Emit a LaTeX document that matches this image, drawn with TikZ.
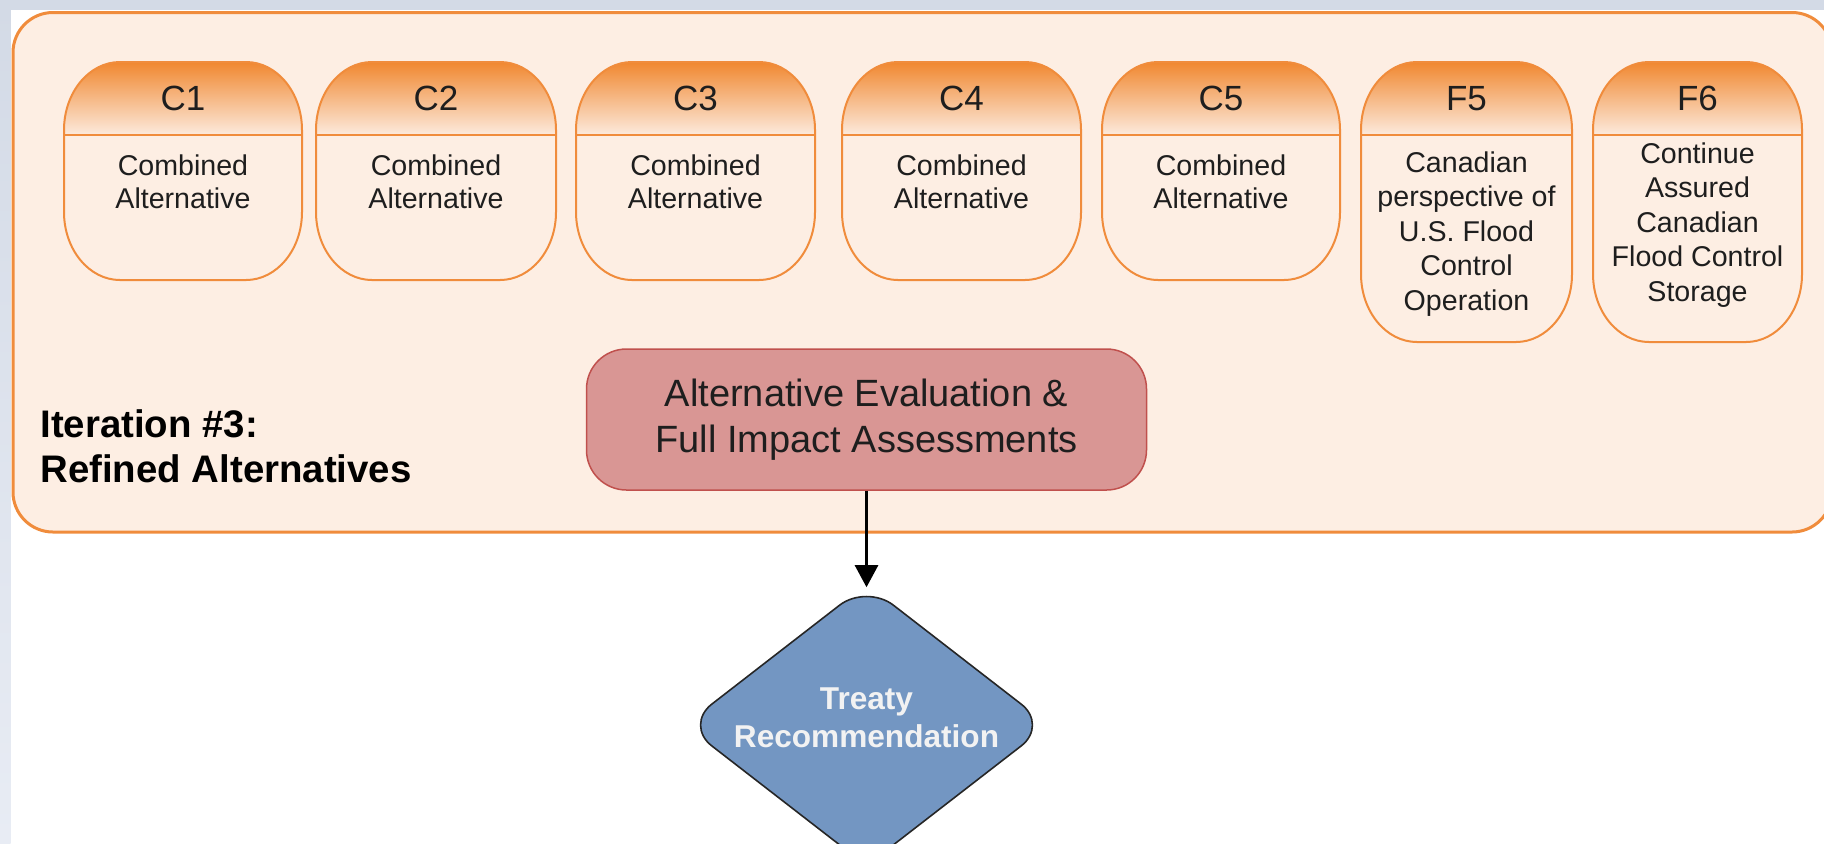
\documentclass[tikz,border=0pt]{standalone}
\usepackage{fontspec}
\setmainfont{Liberation Sans}
\usetikzlibrary{shapes.geometric,arrows.meta}
\definecolor{peach}{HTML}{FDEEE3}
\definecolor{orangeline}{HTML}{F08C3C}
\definecolor{hdrtop}{HTML}{F0852B}
\definecolor{hdrbot}{HTML}{FCEADD}
\definecolor{evalfill}{HTML}{D99694}
\definecolor{evalline}{HTML}{C0504D}
\definecolor{recfill}{HTML}{7396C2}
\definecolor{recline}{HTML}{262626}
\definecolor{stripA}{HTML}{D3DAE6}
\definecolor{stripB}{HTML}{E8ECF4}
\definecolor{ink}{HTML}{1E1E1E}
% x1 y1 x2 y2 rx ry : rectangle with elliptical corners
\newcommand\cardpath[6]{({#1+#5},#2) -- ({#3-#5},#2)
 .. controls ({#3-0.4477*#5},#2) and (#3,{#2+0.4477*#6}) .. (#3,{#2+#6})
 -- (#3,{#4-#6})
 .. controls (#3,{#4-0.4477*#6}) and ({#3-0.4477*#5},#4) .. ({#3-#5},#4)
 -- ({#1+#5},#4)
 .. controls ({#1+0.4477*#5},#4) and (#1,{#4-0.4477*#6}) .. (#1,{#4-#6})
 -- (#1,{#2+#6})
 .. controls (#1,{#2+0.4477*#6}) and ({#1+0.4477*#5},#2) .. ({#1+#5},#2) -- cycle}
\tikzset{
  outerbox/.style={draw=orangeline, fill=peach, line width=1.5pt, rounded corners=20pt},
  cardline/.style={draw=orangeline, line width=1pt},
  hdrtext/.style={anchor=base, inner sep=0pt, text=ink, font=\fontsize{17.5}{20}\selectfont},
  bodytext/.style={anchor=north, inner sep=0pt, text=ink, align=center, font=\fontsize{14.3}{16.7}\selectfont},
  ftext/.style={anchor=north, inner sep=0pt, text=ink, align=center, font=\fontsize{14.3}{17.3}\selectfont},
  evalbox/.style={draw=evalline, fill=evalfill, line width=0.75pt, rounded corners=20pt,
    minimum width=280pt, minimum height=70.5pt, inner sep=0pt, align=center, text=ink,
    font=\fontsize{19}{23}\selectfont},
  recshape/.style={diamond, draw=recline, fill=recfill, line width=0.8pt, rounded corners=17pt,
    minimum width=182pt, minimum height=141pt, inner sep=0pt},
  rectext/.style={inner sep=0pt, align=center, text=white!95!black,
    font=\bfseries\fontsize{15.8}{19}\selectfont},
  iterlabel/.style={anchor=north west, inner sep=0pt, align=left, text=black,
    font=\bfseries\fontsize{19.2}{22.5}\selectfont},
  flowarrow/.style={-{Triangle[length=11pt,width=11.5pt]}, line width=1.3pt, draw=black}
}
\begin{document}
\begin{tikzpicture}[x=0.5pt,y=-0.5pt]
\useasboundingbox (0,0) rectangle (1824,843);
\clip (0,0) rectangle (1824,843);
\fill[white] (0,0) rectangle (1824,843);
\fill[stripA] (0,0) rectangle (1824,9.5);
\shade[top color=stripA, bottom color=stripB] (0,0) rectangle (10.5,843);
% outer container
\path[outerbox] (13,12.5) rectangle (1832,532);
% cards
\foreach \n/\a/\b/\c/\h in {c1/64/302/280/C1, c2/316/556/280/C2, c3/576/815/280/C3,
  c4/842/1081/280/C4, c5/1102/1340/280/C5, f5/1361/1572/342/F5, f6/1593/1802/342/F6}{
  \begin{scope}
    \clip \cardpath{\a}{62}{\b}{\c}{56}{68};
    \shade[top color=hdrtop, bottom color=hdrbot] (\a,60) rectangle (\b,135);
  \end{scope}
  \draw[cardline] \cardpath{\a}{62}{\b}{\c}{56}{68};
  \draw[cardline] (\a,135) -- (\b,135);
  \node[hdrtext] (\n h) at ({(\a+\b)/2},110) {\h};
}
% card bodies
\node[bodytext] (c1b) at (183,154) {Combined\\Alternative};
\node[bodytext] (c2b) at (436,154) {Combined\\Alternative};
\node[bodytext] (c3b) at (695.5,154) {Combined\\Alternative};
\node[bodytext] (c4b) at (961.5,154) {Combined\\Alternative};
\node[bodytext] (c5b) at (1221,154) {Combined\\Alternative};
\node[ftext] (f5b) at (1466.5,151) {Canadian\\perspective of\\U.S. Flood\\Control\\Operation};
\node[ftext] (f6b) at (1697.5,142) {Continue\\Assured\\Canadian\\Flood Control\\Storage};
% label
\node[iterlabel] (iter) at (40,409.5) {Iteration \#3:\\Refined Alternatives};
% evaluation box
\node[evalbox] (eval) at (866.5,419.5) {Alternative Evaluation \&\\Full Impact Assessments};
% decision diamond
\node[recshape] (rec) at (866.5,725) {};
\node[rectext] (rect) at (866.5,717.5) {Treaty\\Recommendation};
% connector
\draw[flowarrow] (eval) -- ([yshift=-2pt]rec.north);
\end{tikzpicture}
\end{document}
